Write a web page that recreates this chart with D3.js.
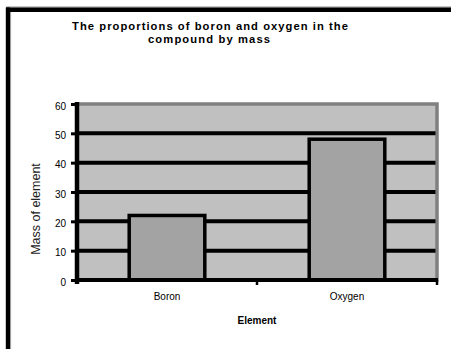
<!DOCTYPE html>
<html>
<head>
<meta charset="utf-8">
<script src="https://cdn.jsdelivr.net/npm/d3@7"></script>
<style>
  html, body { margin: 0; padding: 0; background: #fff; }
  svg { display: block; font-family: "Liberation Sans", Arial, sans-serif; }
</style>
</head>
<body>
<svg id="chart" width="451" height="349"></svg>
<script>
// Mass of each element in the compound
const categories = ["Boron", "Oxygen"];
const masses = [22, 48];
const yTicks = [0, 10, 20, 30, 40, 50, 60];
const titleLines = ["The proportions of boron and oxygen in the", "compound by mass"];
const xTitle = "Element";
const yTitle = "Mass of element";

const svg = d3.select("#chart");

// Plot area bounds
const plot = { left: 77, right: 437, top: 104, bottom: 280 };

const x = d3.scaleBand()
  .domain(categories)
  .range([plot.left, plot.right])
  .paddingInner(0.58)
  .paddingOuter(0.29);

const y = d3.scaleLinear()
  .domain([0, 60])
  .range([plot.bottom, plot.top]);

// Outer frame (top and left edges)
svg.append("line").attr("x1", 6).attr("x2", 451).attr("y1", 7).attr("y2", 7)
  .attr("stroke", "#888").attr("stroke-width", 1);
svg.append("line").attr("x1", 6).attr("x2", 451).attr("y1", 9.7).attr("y2", 9.7)
  .attr("stroke", "#000").attr("stroke-width", 4.4);
svg.append("line").attr("x1", 8).attr("x2", 8).attr("y1", 7.5).attr("y2", 349)
  .attr("stroke", "#000").attr("stroke-width", 4.4);
svg.append("line").attr("x1", 10.6).attr("x2", 10.6).attr("y1", 12).attr("y2", 349)
  .attr("stroke", "#999").attr("stroke-width", 1);

// Title, two lines
const titleY = [30, 43];
svg.append("g").selectAll("text")
  .data(titleLines)
  .join("text")
  .attr("x", (d, i) => i === 0 ? 210 : 209)
  .attr("y", (d, i) => titleY[i])
  .attr("text-anchor", "middle")
  .attr("font-size", 11.2)
  .attr("font-weight", "bold")
  .attr("fill", "#000")
  .attr("textLength", (d, i) => i === 0 ? 276 : 122)
  .attr("lengthAdjust", "spacing")
  .text(d => d);

// Plot background with gray border
svg.append("rect")
  .attr("x", plot.left).attr("y", plot.top)
  .attr("width", plot.right - plot.left).attr("height", plot.bottom - plot.top)
  .attr("fill", "#c0c0c0")
  .attr("stroke", "#808080").attr("stroke-width", 3.5);

// Horizontal gridlines
svg.append("g").selectAll("line")
  .data(yTicks.filter(d => d > 0 && d < 60))
  .join("line")
  .attr("x1", plot.left).attr("x2", plot.right - 1.5)
  .attr("y1", d => y(d)).attr("y2", d => y(d))
  .attr("stroke", "#000").attr("stroke-width", 4);

// Bars
svg.append("g").selectAll("rect")
  .data(categories.map((c, i) => ({ c, v: masses[i] })))
  .join("rect")
  .attr("x", d => x(d.c))
  .attr("width", x.bandwidth())
  .attr("y", d => y(d.v))
  .attr("height", d => y(0) - y(d.v))
  .attr("fill", "#a3a3a3")
  .attr("stroke", "#000").attr("stroke-width", 3.5);

// Y axis
const yAxis = svg.append("g")
  .attr("transform", `translate(${plot.left},0)`)
  .call(d3.axisLeft(y).tickValues(yTicks).tickSize(6).tickPadding(5).tickFormat(d3.format("d")));
yAxis.select(".domain").remove();
yAxis.selectAll(".tick line").attr("stroke", "#000").attr("stroke-width", 3);
yAxis.selectAll(".tick text")
  .attr("font-size", 10)
  .attr("font-family", "\"Liberation Sans\", Arial, sans-serif")
  .attr("fill", "#000")
  .attr("dy", "0.5em");
svg.append("line")
  .attr("x1", plot.left).attr("x2", plot.left)
  .attr("y1", plot.top - 2).attr("y2", plot.bottom + 4)
  .attr("stroke", "#000").attr("stroke-width", 4.5);

// X axis
const xAxis = svg.append("g")
  .attr("transform", `translate(0,${plot.bottom})`)
  .call(d3.axisBottom(x).tickSize(0).tickPadding(13));
xAxis.select(".domain").remove();
xAxis.selectAll(".tick text")
  .attr("font-size", 10)
  .attr("font-family", "\"Liberation Sans\", Arial, sans-serif")
  .attr("fill", "#000");
svg.append("line")
  .attr("x1", plot.left).attr("x2", plot.right + 1)
  .attr("y1", plot.bottom).attr("y2", plot.bottom)
  .attr("stroke", "#000").attr("stroke-width", 4);
// Category boundary ticks
const boundaries = [x.step() + plot.left, plot.right];
svg.append("g").selectAll("line")
  .data(boundaries)
  .join("line")
  .attr("x1", d => d).attr("x2", d => d)
  .attr("y1", plot.bottom).attr("y2", plot.bottom + 5)
  .attr("stroke", "#000").attr("stroke-width", 2.5);

// Axis titles
svg.append("text")
  .attr("x", (plot.left + plot.right) / 2).attr("y", 324)
  .attr("text-anchor", "middle")
  .attr("font-size", 10).attr("font-weight", "bold")
  .text(xTitle);

svg.append("text")
  .attr("transform", `translate(40,${(plot.top + plot.bottom) / 2 + 17}) rotate(-90)`)
  .attr("text-anchor", "middle")
  .attr("font-size", 12.5)
  .attr("fill", "#222")
  .text(yTitle);
</script>
</body>
</html>
